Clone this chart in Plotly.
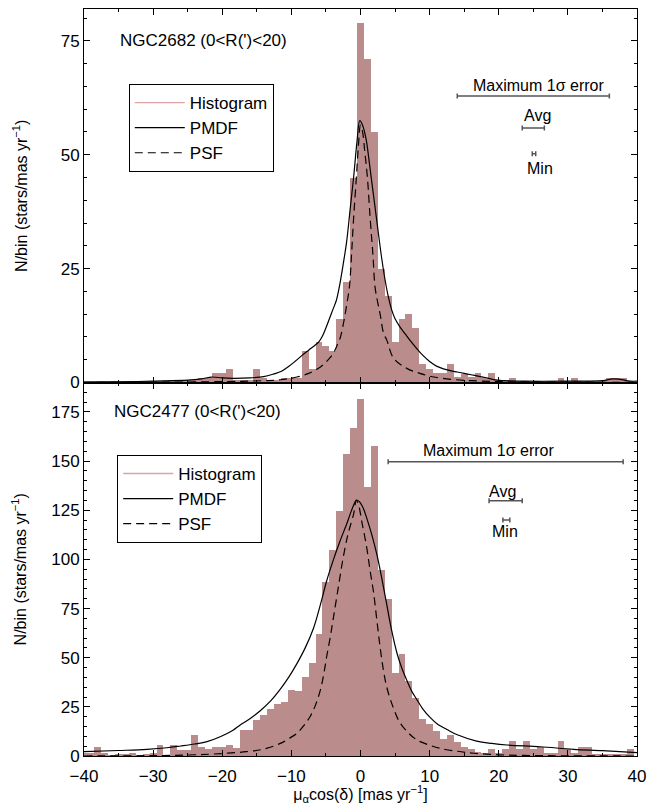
import plotly.graph_objects as go
from plotly.subplots import make_subplots

# ---------------- data ----------------
bin_centers = list(range(-40, 40))

hist_ngc2682 = [0.3, 0.2, 0.3, 0.2, 0.3, 0.3, 0.2, 0.3, 0.3, 0.2,
                0.3, 0.3, 0.3, 0.3, 0.3, 0.5, 0.5, 1.0, 1.0, 2.0,
                2.0, 3.0, 0.5, 0.5, 0.5, 3.0, 1.0, 0.5, 0.5, 1.0,
                1.0, 1.0, 7.0, 3.0, 9.0, 8.0, 7.0, 14.0, 22.0, 45.0,
                79.0, 71.0, 55.0, 25.0, 19.0, 9.0, 14.0, 15.0, 12.0, 4.0,
                3.0, 2.0, 2.0, 4.0, 1.1, 1.8, 1.1, 2.0, 1.0, 2.0,
                0.5, 0.5, 1.0, 0.3, 0.3, 0.2, 0.3, 0.3, 0.2, 1.0,
                0.3, 1.0, 0.3, 0.2, 0.3, 0.3, 1.0, 1.0, 1.0, 0.2]

hist_ngc2477 = [2.0, 2.0, 5.0, 2.0, 1.0, 1.5, 1.5, 2.0, 1.0, 1.5,
                2.0, 6.0, 1.0, 6.0, 3.5, 3.5, 11.0, 5.0, 4.0, 5.0,
                5.0, 6.0, 4.5, 13.5, 13.5, 18.5, 21.0, 24.0, 26.5, 27.5,
                34.0, 33.5, 40.5, 47.5, 62.5, 89.0, 105.0, 125.0, 154.0, 167.0,
                182.0, 137.0, 158.0, 95.0, 80.0, 42.5, 52.0, 38.6, 30.0, 19.0,
                16.6, 13.2, 9.0, 10.7, 7.3, 5.0, 3.9, 2.2, 2.0, 3.9,
                2.0, 3.9, 7.8, 3.9, 7.8, 3.9, 5.0, 2.0, 2.0, 7.8,
                3.9, 2.0, 5.0, 5.0, 1.4, 1.4, 1.4, 1.4, 1.4, 3.9]

pmdf1_x = [-40, -35, -30, -25, -23, -21.5, -20, -18.5, -16, -14, -12.5, -11.5, -10.5,
           -9.5, -8.5, -7.5, -6.5, -6.0, -5.5, -5.0, -4.5, -4.0, -3.5, -3.0, -2.5,
           -2.0, -1.5, -1.0, -0.5, -0.1, 0.3, 0.8, 1.3, 1.8, 2.4, 3.0, 3.5, 4.0,
           4.5, 5.0, 5.8, 6.5, 7.2, 8.0, 9.0, 10.0, 11.0, 12.0, 13.0, 14.0, 15.0,
           16.0, 17.0, 18.0, 19.8, 23.7, 30.0, 35.0, 36.5, 37.5, 39.0, 40.0]
pmdf1_y = [0.1, 0.15, 0.3, 0.5, 0.8, 1.2, 1.0, 0.9, 1.0, 1.3, 1.9, 2.4, 3.4,
           4.6, 5.9, 7.1, 8.3, 9.0, 10.2, 12.0, 14.0, 16.0, 18.0, 21.5, 26.0,
           31.0, 38.0, 45.0, 53.0, 57.5, 56.5, 53.5, 48.0, 42.0, 35.0, 28.0, 23.0, 19.0,
           16.0, 14.0, 12.0, 10.6, 9.2, 7.7, 6.0, 4.6, 3.6, 3.0, 2.6, 2.3, 2.0,
           1.7, 1.4, 1.1, 0.5, 0.3, 0.3, 0.4, 0.8, 0.7, 0.3, 0.3]

psf1_x = [-40, -30, -20, -14, -11.6, -9.2, -7.5, -5.8, -4.5, -3.9, -3.3, -2.9, -2.4,
          -2.0, -1.6, -1.3, -1.0, -0.6, -0.3, 0.0, 0.3, 0.6, 1.0, 1.4, 1.8, 2.1,
          2.5, 2.9, 3.3, 3.8, 4.8, 6.7, 8.6, 10.6, 13.5, 16.0, 20.0, 30.0, 40.0]
psf1_y = [0.0, 0.05, 0.2, 0.4, 0.6, 1.2, 2.0, 3.4, 5.3, 6.5, 8.5, 10.0, 13.5,
          17.0, 21.0, 28.0, 36.0, 45.0, 52.0, 56.5, 55.0, 51.0, 45.0, 36.0, 28.0, 21.0,
          17.5, 14.5, 11.0, 9.3, 5.3, 3.1, 2.0, 1.2, 0.65, 0.4, 0.2, 0.08, 0.03]

pmdf2_x = [-40, -35, -30.9, -28, -26, -24, -22.2, -20.3, -18.5, -17.4, -16, -14.5,
           -13, -11.6, -10.4, -9.2, -8.0, -6.8, -5.8, -4.9, -4.0, -3.0, -2.0, -1.5,
           -1.0, -0.6, -0.2, 0.4, 0.9, 1.6, 2.4, 3.1, 3.8, 4.5, 5.3, 6.0, 6.7, 7.4,
           8.1, 9.0, 10.1, 11.2, 12.5, 14.0, 16.8, 19.0, 21.2, 26.0, 30.8, 35.0, 40.0]
pmdf2_y = [2.2, 2.8, 3.4, 4.2, 5.1, 6.1, 7.3, 9.8, 13.0, 15.8, 19.0, 23.0,
           28.0, 34.0, 40.0, 47.0, 55.0, 65.0, 77.0, 89.0, 99.0, 109.0, 118.0, 123.0,
           127.5, 130.2, 129.5, 126.0, 121.0, 113.0, 102.0, 90.0, 77.0, 64.0, 52.0, 44.5, 38.5, 33.0,
           29.0, 24.0, 19.5, 16.0, 13.5, 10.8, 7.6, 6.4, 5.6, 4.7, 3.4, 2.7, 1.7]

psf2_x = [-40, -30, -25, -21.3, -16.5, -14, -11.6, -10.3, -9.2, -8.2, -7.3, -6.5,
          -5.8, -5.3, -4.9, -4.4, -3.9, -3.2, -2.5, -1.8, -1.0, -0.6, -0.3, 0.2,
          0.9, 1.4, 1.9, 2.4, 2.85, 3.3, 3.8, 4.7, 5.7, 7.0, 8.2, 10.0, 11.5, 14.0,
          16.4, 20.0, 23.6, 30.0, 40.0]
psf2_y = [0.0, 0.2, 0.5, 1.0, 2.2, 3.5, 6.4, 9.0, 11.5, 15.5, 20.0, 26.0,
          33.6, 42.0, 50.5, 60.0, 70.8, 86.0, 101.0, 113.0, 123.0, 130.0, 128.0, 119.0,
          106.0, 94.0, 83.0, 68.0, 55.0, 44.0, 35.0, 25.0, 17.0, 11.5, 8.1, 5.5, 3.9, 2.4,
          1.4, 0.6, 0.3, 0.1, 0.0]

# 1-sigma error indicators: centre x, y level, half width (Maximum, Avg, Min)
err1_x = [25.0, 25.0, 25.1]
err1_y = [62.9, 55.9, 50.2]
err1_hw = [11.0, 1.6, 0.25]
err2_x = [21.0, 21.0, 21.1]
err2_y = [149.7, 129.9, 120.0]
err2_hw = [17.0, 2.4, 0.5]
err_labels = ["Maximum 1σ error", "Avg", "Min"]
lab1_pos = [(25.7, 65.3), (25.6, 58.6), (26.0, 47.0)]
lab2_pos = [(18.5, 155.2), (20.6, 134.8), (20.85, 114.4)]

panel_titles = ["NGC2682 (0&lt;R(')&lt;20)", "NGC2477 (0&lt;R(')&lt;20)"]

# ---------------- styling ----------------
BAR = "#ba8c8c"
HISTLEG = "#dca3a3"
FONT = "Liberation Sans, Arial, Helvetica, sans-serif"

fig = make_subplots(rows=2, cols=1, shared_xaxes=True, vertical_spacing=0)

panels = [
    (1, hist_ngc2682, pmdf1_x, pmdf1_y, psf1_x, psf1_y, "legend"),
    (2, hist_ngc2477, pmdf2_x, pmdf2_y, psf2_x, psf2_y, "legend2"),
]
for row, hist, px, py, sx, sy, leg in panels:
    fig.add_trace(go.Bar(x=bin_centers, y=hist, marker=dict(color=BAR, line=dict(width=0)),
                         width=1.0, showlegend=False, hoverinfo="skip"), row=row, col=1)
    fig.add_trace(go.Scatter(x=[None], y=[None], mode="lines", name="Histogram",
                             line=dict(color=HISTLEG, width=1.3), legend=leg), row=row, col=1)
    fig.add_trace(go.Scatter(x=px, y=py, mode="lines", name="PMDF", line_shape="spline",
                             line=dict(color="black", width=1.2), legend=leg), row=row, col=1)
    fig.add_trace(go.Scatter(x=sx, y=sy, mode="lines", name="PSF", line_shape="spline",
                             line=dict(color="black", width=1.2, dash="8px,5px"), legend=leg),
                  row=row, col=1)

for row, ex, ey, ehw in [(1, err1_x, err1_y, err1_hw), (2, err2_x, err2_y, err2_hw)]:
    fig.add_trace(go.Scatter(x=ex, y=ey, mode="markers",
                             marker=dict(size=1, color="rgba(0,0,0,0)"),
                             error_x=dict(type="data", array=ehw, color="#555555",
                                          thickness=1.5, width=2.5),
                             showlegend=False, hoverinfo="skip"), row=row, col=1)

# text labels for the error indicators
for row, pos in [(1, lab1_pos), (2, lab2_pos)]:
    xr = "x" if row == 1 else "x2"
    yr = "y" if row == 1 else "y2"
    for txt, (lx, ly) in zip(err_labels, pos):
        fig.add_annotation(x=lx, y=ly, xref=xr, yref=yr, text=txt, showarrow=False,
                           font=dict(size=16, color="black", family=FONT),
                           xanchor="center", yanchor="middle")

fig.add_annotation(x=0.0615, y=0.9585, xref="paper", yref="paper", text=panel_titles[0],
                   showarrow=False, xanchor="left", yanchor="middle",
                   font=dict(size=17, color="black", family=FONT))
fig.add_annotation(x=0.051, y=0.461, xref="paper", yref="paper", text=panel_titles[1],
                   showarrow=False, xanchor="left", yanchor="middle",
                   font=dict(size=17, color="black", family=FONT))

axis_common = dict(showline=True, linecolor="black", linewidth=1, mirror="ticks",
                   ticks="inside", tickcolor="black", ticklen=6, tickwidth=1,
                   showgrid=False, zeroline=False, automargin=False,
                   tickfont=dict(size=17, color="black", family=FONT))

fig.update_xaxes(range=[-40, 40], dtick=10, tick0=0,
                 minor=dict(ticks="inside", ticklen=3, dtick=5, tickcolor="black"),
                 **axis_common)
fig.update_xaxes(showticklabels=False, row=1, col=1)
fig.update_xaxes(title=dict(text="μ<sub>α</sub>cos(δ) [mas yr<sup>−1</sup>]",
                            font=dict(size=16, color="black", family=FONT), standoff=4),
                 ticklabelstandoff=5, row=2, col=1)

ytitle = "N/bin (stars/mas yr<sup>−1</sup>)"
fig.update_yaxes(range=[0, 82], dtick=25, row=1, col=1,
                 minor=dict(ticks="inside", ticklen=3, dtick=5, tickcolor="black"),
                 title=dict(text=ytitle, font=dict(size=16, color="black", family=FONT), standoff=29),
                 **axis_common)
fig.update_yaxes(range=[0, 190], dtick=25, row=2, col=1,
                 minor=dict(ticks="inside", ticklen=3, dtick=5, tickcolor="black"),
                 title=dict(text=ytitle, font=dict(size=16, color="black", family=FONT), standoff=20),
                 **axis_common)

legend_common = dict(bgcolor="white", bordercolor="black", borderwidth=1,
                     font=dict(size=17, color="black", family=FONT),
                     xanchor="left", yanchor="top", tracegroupgap=0,
                     itemwidth=50, itemclick=False)
fig.update_layout(
    width=658, height=805,
    margin=dict(l=84, r=21, t=9, b=49),
    paper_bgcolor="white", plot_bgcolor="white",
    bargap=0, showlegend=True,
    font=dict(family=FONT, color="black"),
    legend=dict(x=0.081, y=0.8996, **legend_common),
    legend2=dict(x=0.06, y=0.403, **legend_common),
)

fig.write_html("out.html")
